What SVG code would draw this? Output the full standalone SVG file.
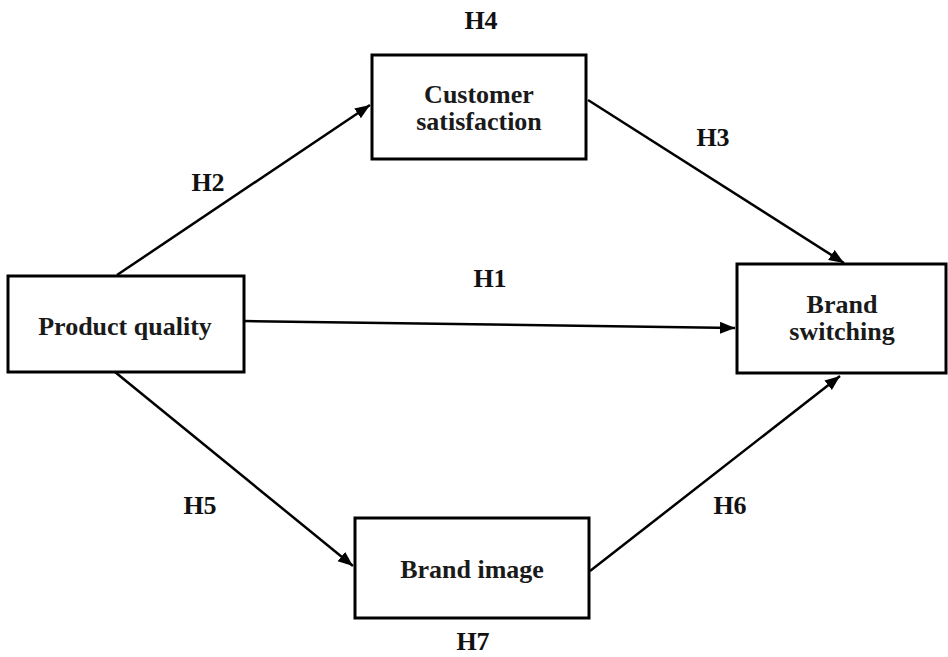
<svg xmlns="http://www.w3.org/2000/svg" width="948" height="657" viewBox="0 0 948 657">
<style>
.box{fill:#fff;stroke:#000;stroke-width:3}
.t{font-family:"Liberation Serif","Times New Roman",serif;font-weight:bold;font-size:26px;fill:#1a1a1a;text-anchor:middle}
.h{font-family:"Liberation Serif","Times New Roman",serif;font-weight:bold;font-size:26px;fill:#111;text-anchor:middle}
.c{stroke:#000;stroke-width:2.5;fill:none;marker-end:url(#ah)}
</style>
<defs>
<marker id="ah" markerUnits="userSpaceOnUse" markerWidth="16" markerHeight="14" refX="15" refY="6" orient="auto">
<path d="M0,0 L15,6 L0,12 Z" fill="#000"/>
</marker>
</defs>
<rect width="948" height="657" fill="#fff"/>
<g id="connectors">
<line class="c" x1="117" y1="275" x2="370" y2="105"/>
<line class="c" x1="244" y1="321" x2="735" y2="328"/>
<line class="c" x1="588" y1="100" x2="844" y2="263"/>
<line class="c" x1="115" y1="372" x2="353" y2="566"/>
<line class="c" x1="590" y1="571" x2="840" y2="376"/>
</g>
<g id="labels">
<text class="h" x="481" y="29">H4</text>
<text class="h" x="208" y="191">H2</text>
<text class="h" x="490" y="287">H1</text>
<text class="h" x="713" y="146">H3</text>
<text class="h" x="200" y="514">H5</text>
<text class="h" x="730" y="514">H6</text>
<text class="h" x="473" y="650">H7</text>
</g>
<g id="product-quality">
<rect class="box" x="8" y="276" width="236" height="96"/>
<text class="t" x="125" y="335">Product quality</text>
</g>
<g id="customer-satisfaction">
<rect class="box" x="372" y="55" width="214" height="104"/>
<text class="t" x="479" y="103">Customer</text>
<text class="t" x="479" y="130">satisfaction</text>
</g>
<g id="brand-switching">
<rect class="box" x="737" y="264" width="209" height="109"/>
<text class="t" x="842" y="313">Brand</text>
<text class="t" x="842" y="340">switching</text>
</g>
<g id="brand-image">
<rect class="box" x="355" y="518" width="234" height="100"/>
<text class="t" x="472" y="578">Brand image</text>
</g>
</svg>
